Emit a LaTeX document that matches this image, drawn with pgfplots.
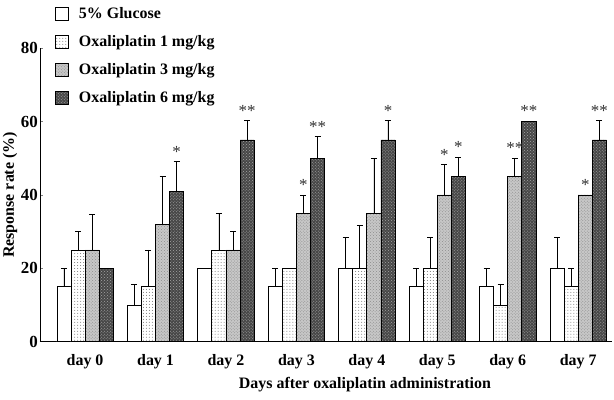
\documentclass[border=0pt]{standalone}
\usepackage{pgfplots}
\pgfplotsset{compat=1.18}
\usepackage{pgfplotstable}
\usepackage{fontspec}
\setmainfont{Liberation Serif}
\usetikzlibrary{patterns}

\pgfplotstableread{
x  g1 e1  g2 e2  g3 e3   g4 e4
0  15 5   25 5   25 9.6  20 0
1  10 5.7 15 10  32 13   41 8.2
2  20 0   25 10  25 5    55 5.2
3  15 5   20 0   35 5    50 6
4  20 8.3 20 11.8 35 15  55 5.2
5  15 5   20 8.3 40 8.3  45 5.2
6  15 5   10 5.7 45 5    60 0
7  20 8.3 15 5   40 0    55 5.2
}\datatable

\pgfplotstableread{
x   y   s
1.3 49.2 *
2.3 60.3 **
3.1 40  *
3.3 56  **
4.3 60.3 *
5.1 48.3 *
5.3 50.4 *
6.1 50.2 **
6.3 60.3 **
7.1 40  *
7.3 60.3 **
}\startable

\begin{document}
\begin{tikzpicture}
\begin{axis}[
  scale only axis,
  width=572bp, height=293.5bp,
  xmin=-0.64, xmax=7.48,
  ymin=0, ymax=80,
  ytick={0,20,40,60,80},
  xtick={0,...,7},
  xticklabels={day 0,day 1,day 2,day 3,day 4,day 5,day 6,day 7},
  x tick style={draw=none},
  axis x line*=bottom, axis y line*=left,
  axis line style={-, line width=0.9pt},
  tick align=inside, major tick length=3bp,
  y tick style={line width=0.8pt},
  font=\fontsize{16}{19}\selectfont\bfseries,
  /pgf/number format/assume math mode=true,
  every x tick label/.append style={anchor=center, yshift=-20bp},
  every y tick label/.append style={inner sep=2pt, font=\fontsize{17}{19}\selectfont\bfseries},
  xlabel={Days after oxaliplatin administration},
  ylabel={Response rate (\%)},
  every axis x label/.style={at={(axis description cs:0.568,0)}, anchor=center, yshift=-43bp},
  every axis y label/.style={at={(axis description cs:-0.0524,0.5)}, rotate=90, anchor=center},
  legend style={at={(0.021,1.153)}, anchor=north west, draw=none, fill=none,
    font=\fontsize{16}{19}\selectfont\bfseries, row sep=11.5bp, cells={anchor=west},
    /tikz/every odd column/.style={column sep=8bp}},
  legend image code/.code={\draw[#1, line width=0.8pt] (0bp,-6.5bp) rectangle (13bp,6.5bp);},
  error bars/error bar style={line width=0.8pt, black},
  error bars/error mark options={rotate=90, mark size=3bp, line width=0.8pt, black},
]
\addplot[ybar, bar width=0.2, bar shift=0pt, draw=black, line width=0.8pt, fill=white,
  error bars/.cd, y dir=plus, y explicit]
  table[x expr=\thisrow{x}-0.3, y=g1, y error=e1] {\datatable};
\addlegendentry{5\% Glucose}
\addplot[ybar, bar width=0.2, bar shift=0pt, draw=black, line width=0.8pt, fill=white,
  postaction={pattern=dots, pattern color=black!55},
  error bars/.cd, y dir=plus, y explicit]
  table[x expr=\thisrow{x}-0.1, y=g2, y error=e2] {\datatable};
\addlegendentry{Oxaliplatin 1 mg/kg}
\addplot[ybar, bar width=0.2, bar shift=0pt, draw=black, line width=0.8pt, fill=black!22,
  postaction={pattern=crosshatch dots, pattern color=black!45},
  error bars/.cd, y dir=plus, y explicit]
  table[x expr=\thisrow{x}+0.1, y=g3, y error=e3] {\datatable};
\addlegendentry{Oxaliplatin 3 mg/kg}
\addplot[ybar, bar width=0.2, bar shift=0pt, draw=black, line width=0.8pt, fill=black!72,
  postaction={pattern=crosshatch dots, pattern color=black!35},
  error bars/.cd, y dir=plus, y explicit]
  table[x expr=\thisrow{x}+0.3, y=g4, y error=e4] {\datatable};
\addlegendentry{Oxaliplatin 6 mg/kg}
\addplot[draw=none, forget plot, nodes near coords, point meta=explicit symbolic,
  nodes near coords style={anchor=south, inner sep=0pt, yshift=4bp,
    font=\fontsize{17}{19}\selectfont\mdseries, text=black!80}]
  table[x=x, y=y, meta=s] {\startable};
\end{axis}
\pgfresetboundingbox
\path[use as bounding box] ([xshift=-40bp,yshift=-58.3bp]current axis.south west) rectangle ++(614bp,400bp);
\end{tikzpicture}
\end{document}
